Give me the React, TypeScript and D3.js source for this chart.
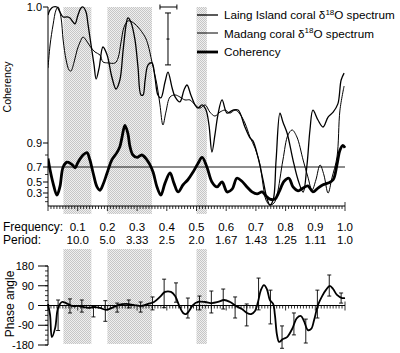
import * as d3 from 'd3';

// frequency axis (cycles per year) and matching periods
const frequencyTicks = [0.1, 0.2, 0.3, 0.4, 0.5, 0.6, 0.7, 0.8, 0.9, 1.0];
const periodLabels = ['10.0', '5.0', '3.33', '2.5', '2.0', '1.67', '1.43', '1.25', '1.11', '1.0'];
const coherencyTicks = [0.3, 0.5, 0.7, 0.9, 1.0];
const phaseTicks = [-180, -90, 0, 90, 180];
const significance = 0.7;

// shaded frequency bands
const bands: [number, number][] = [
  [0.052, 0.146],
  [0.2, 0.35],
  [0.5, 0.535],
];

// normalised spectral power, [frequency, power]
const laingSpectrum: [number, number][] = [
  [0.0, 0.96], [0.007, 0.985], [0.017, 1.0], [0.03, 1.0], [0.04, 0.975], [0.051, 0.95],
  [0.064, 0.95], [0.074, 0.945], [0.084, 0.925], [0.091, 0.915], [0.101, 0.96], [0.111, 0.995],
  [0.118, 1.0], [0.128, 0.975], [0.135, 0.91], [0.145, 0.809], [0.155, 0.709], [0.162, 0.638],
  [0.172, 0.693], [0.185, 0.799], [0.199, 0.759], [0.215, 0.648], [0.229, 0.588], [0.242, 0.633],
  [0.253, 0.784], [0.263, 0.91], [0.269, 0.945], [0.279, 0.925], [0.293, 0.834], [0.303, 0.698],
  [0.313, 0.558], [0.32, 0.558], [0.327, 0.633], [0.337, 0.709], [0.35, 0.719], [0.36, 0.648],
  [0.37, 0.558], [0.38, 0.543], [0.394, 0.623], [0.404, 0.673], [0.418, 0.593], [0.428, 0.548],
  [0.444, 0.523], [0.458, 0.583], [0.468, 0.608], [0.481, 0.558], [0.495, 0.508], [0.505, 0.492],
  [0.519, 0.508], [0.532, 0.482], [0.542, 0.407], [0.552, 0.271], [0.562, 0.357], [0.572, 0.457],
  [0.586, 0.533], [0.603, 0.467], [0.623, 0.482], [0.64, 0.482], [0.663, 0.397], [0.68, 0.342],
  [0.69, 0.327], [0.707, 0.246], [0.724, 0.131], [0.737, 0.04], [0.747, 0.005], [0.758, 0.03],
  [0.768, 0.231], [0.781, 0.467], [0.791, 0.422], [0.805, 0.367], [0.825, 0.231], [0.842, 0.131],
  [0.859, 0.07], [0.872, 0.206], [0.882, 0.382], [0.892, 0.482], [0.909, 0.432], [0.926, 0.397],
  [0.943, 0.447], [0.96, 0.472], [0.976, 0.513], [0.987, 0.633], [0.997, 0.668],
];

const madangSpectrum: [number, number][] = [
  [0.0, 0.693], [0.007, 0.809], [0.017, 0.91], [0.027, 0.985], [0.034, 1.0], [0.044, 0.945],
  [0.051, 0.834], [0.061, 0.734], [0.071, 0.683], [0.077, 0.678], [0.088, 0.724], [0.098, 0.784],
  [0.108, 0.824], [0.118, 0.849], [0.128, 0.834], [0.141, 0.804], [0.158, 0.774], [0.175, 0.759],
  [0.185, 0.724], [0.202, 0.719], [0.226, 0.719], [0.236, 0.744], [0.246, 0.824], [0.256, 0.899],
  [0.269, 0.93], [0.283, 0.925], [0.303, 0.899], [0.327, 0.849], [0.337, 0.809], [0.35, 0.724],
  [0.367, 0.608], [0.377, 0.508], [0.387, 0.407], [0.397, 0.472], [0.411, 0.548], [0.428, 0.558],
  [0.444, 0.548], [0.461, 0.533], [0.478, 0.533], [0.495, 0.508], [0.512, 0.492], [0.529, 0.508],
  [0.545, 0.472], [0.562, 0.452], [0.579, 0.472], [0.596, 0.482], [0.613, 0.467], [0.63, 0.482],
  [0.646, 0.462], [0.663, 0.417], [0.68, 0.347], [0.697, 0.291], [0.714, 0.206], [0.724, 0.106],
  [0.734, 0.03], [0.747, 0.005], [0.761, 0.015], [0.771, 0.055], [0.791, 0.231], [0.808, 0.357],
  [0.822, 0.382], [0.838, 0.347], [0.859, 0.231], [0.875, 0.146], [0.889, 0.08], [0.902, 0.131],
  [0.916, 0.206], [0.929, 0.156], [0.943, 0.065], [0.956, 0.141], [0.973, 0.246], [0.983, 0.482],
  [0.997, 0.603],
];

// coherency, [frequency, coherency]
const coherency: [number, number][] = [
  [0.0, 0.77], [0.007, 0.66], [0.017, 0.48], [0.03, 0.25], [0.04, 0.41], [0.051, 0.7],
  [0.064, 0.74], [0.081, 0.72], [0.091, 0.69], [0.101, 0.74], [0.118, 0.8], [0.131, 0.82],
  [0.141, 0.76], [0.152, 0.62], [0.165, 0.41], [0.175, 0.35], [0.185, 0.45], [0.199, 0.62],
  [0.215, 0.76], [0.232, 0.82], [0.242, 0.87], [0.249, 0.904], [0.259, 0.913], [0.269, 0.907],
  [0.276, 0.87], [0.286, 0.8], [0.3, 0.78], [0.316, 0.8], [0.333, 0.76], [0.343, 0.72],
  [0.354, 0.63], [0.367, 0.41], [0.38, 0.25], [0.394, 0.48], [0.411, 0.62], [0.424, 0.48],
  [0.438, 0.32], [0.455, 0.45], [0.471, 0.53], [0.488, 0.63], [0.505, 0.73], [0.519, 0.78],
  [0.535, 0.7], [0.552, 0.5], [0.569, 0.41], [0.586, 0.5], [0.603, 0.32], [0.62, 0.37],
  [0.636, 0.55], [0.653, 0.51], [0.67, 0.41], [0.687, 0.32], [0.704, 0.28], [0.721, 0.32],
  [0.734, 0.23], [0.747, 0.16], [0.764, 0.16], [0.778, 0.32], [0.795, 0.51], [0.811, 0.55],
  [0.825, 0.41], [0.842, 0.34], [0.859, 0.39], [0.875, 0.43], [0.892, 0.32], [0.909, 0.39],
  [0.926, 0.45], [0.943, 0.48], [0.96, 0.53], [0.973, 0.72], [0.983, 0.84], [0.993, 0.88],
  [1.0, 0.86],
];

// phase angle in degrees, [frequency, phase]
const phase: [number, number][] = [
  [0.0, 7], [0.007, -43], [0.013, -144], [0.024, -103], [0.034, -11], [0.047, 16], [0.061, 11],
  [0.081, -2], [0.101, -2], [0.121, -7], [0.141, -11], [0.158, -7], [0.175, -11], [0.195, -20],
  [0.215, -11], [0.236, 2], [0.263, 7], [0.29, 2], [0.316, -2], [0.337, 7], [0.357, 16],
  [0.377, 39], [0.394, 62], [0.414, 62], [0.428, 43], [0.441, 2], [0.455, -34], [0.465, -39],
  [0.475, -25], [0.488, 2], [0.505, 16], [0.529, 16], [0.552, 11], [0.572, 16], [0.593, 25],
  [0.613, 16], [0.633, -2], [0.653, -16], [0.67, -34], [0.684, -39], [0.697, -25], [0.707, 16],
  [0.717, 71], [0.727, 93], [0.737, 75], [0.747, 25], [0.758, 7], [0.764, -43], [0.771, -134],
  [0.778, -166], [0.791, -153], [0.805, -144], [0.822, -107], [0.838, -57], [0.852, -48],
  [0.862, -71], [0.875, -112], [0.886, -107], [0.896, -66], [0.909, 2], [0.923, 43], [0.936, 71],
  [0.949, 89], [0.96, 75], [0.973, 48], [0.99, 34], [1.0, 34],
];

// phase error bars
const phaseBarFreq = [
  0.034, 0.074, 0.114, 0.153, 0.193, 0.233, 0.272, 0.312, 0.352, 0.391, 0.431, 0.471, 0.51,
  0.55, 0.59, 0.63, 0.669, 0.709, 0.749, 0.788, 0.828, 0.868, 0.907, 0.947, 0.987,
];
const phaseBarLow = [
  -114, -34, -30, -52, -72, -30, -11, -30, -20, -10, 15, -57, -20, -34, -16, -57, -93, -20, -84,
  -195, -134, -171, -57, 43, 11,
];
const phaseBarHigh = [
  25, 30, 25, -4, 22, 11, 25, 16, 39, 120, 103, 34, 43, 66, 75, 39, 7, 125, 70, -93, -34, -62, 70,
  139, 57,
];

// bandwidth and confidence indicators (top of spectrum panel)
const bandwidth = [0.377, 0.434];
const confidenceFreq = 0.404;
const confidence = [0.709, 0.839, 0.97];

const FONT = 'Liberation Sans, Arial, Helvetica, sans-serif';

const App = () => {
  const width = 400;
  const height = 353;

  const x = d3.scaleLinear().domain([0, 1]).range([48, 345]);
  const yPower = d3.scaleLinear().domain([0, 1]).range([206, 7]);
  const yCoh = d3
    .scaleLinear()
    .domain([0, 0.3, 0.5, 0.7, 0.9, 1.0])
    .range([206, 193, 182, 167, 143, 7]);
  const yPhase = d3.scaleLinear().domain([-180, 180]).range([345, 266]);

  const powerLine = d3
    .line<[number, number]>()
    .x((d) => x(d[0]))
    .y((d) => yPower(d[1]))
    .curve(d3.curveCatmullRom.alpha(0.5));
  const cohLine = d3
    .line<[number, number]>()
    .x((d) => x(d[0]))
    .y((d) => yCoh(d[1]))
    .curve(d3.curveCatmullRom.alpha(0.5));
  const phaseLine = d3
    .line<[number, number]>()
    .x((d) => x(d[0]))
    .y((d) => yPhase(d[1]))
    .curve(d3.curveCatmullRom.alpha(0.5));

  const minorX = d3.range(0, 101).map((i) => i / 100);
  const minorCoh = [0.1, 0.2, 0.4, 0.6, 0.8];
  const minorPhase = d3.range(-180, 181, 22.5);

  const topAxisY = yCoh(0);
  const phaseZero = yPhase(0);

  return (
    <svg
      width={width}
      height={height}
      style={{ position: 'absolute', left: 0, top: 0, background: '#fff' }}
      fontFamily={FONT}
    >
      <defs>
        <pattern id="stipple" width={2} height={2} patternUnits="userSpaceOnUse">
          <rect width={2} height={2} fill="#efefef" />
          <rect width={1} height={1} fill="#c6c6c6" />
          <rect x={1} y={1} width={1} height={1} fill="#c6c6c6" />
        </pattern>
        <clipPath id="topClip">
          <rect x={48} y={3} width={298} height={topAxisY - 3} />
        </clipPath>
      </defs>

      {/* shaded bands */}
      {bands.map(([a, b], i) => (
        <g key={i}>
          <rect x={x(a)} y={7} width={x(b) - x(a)} height={214 - 7} fill="url(#stipple)" />
          <rect x={x(a)} y={249} width={x(b) - x(a)} height={344 - 249} fill="url(#stipple)" />
        </g>
      ))}

      {/* top panel axes */}
      <line x1={48} x2={48} y1={yCoh(1)} y2={topAxisY} stroke="#000" strokeWidth={1} />
      <line x1={48} x2={345} y1={topAxisY} y2={topAxisY} stroke="#000" strokeWidth={1} />
      {coherencyTicks.map((t) => (
        <g key={t}>
          <line x1={43} x2={48} y1={yCoh(t)} y2={yCoh(t)} stroke="#000" />
          <text x={42} y={yCoh(t) + 4} fontSize={11} textAnchor="end">
            {t.toFixed(1)}
          </text>
        </g>
      ))}
      {minorCoh.map((t) => (
        <line key={t} x1={45} x2={48} y1={yCoh(t)} y2={yCoh(t)} stroke="#000" strokeWidth={0.8} />
      ))}
      {minorX.map((f) => {
        const major = Math.round(f * 100) % 10 === 0;
        return (
          <line
            key={f}
            x1={x(f)}
            x2={x(f)}
            y1={f === 1 ? topAxisY - 4 : topAxisY}
            y2={topAxisY + (major ? 5 : 3)}
            stroke="#000"
            strokeWidth={0.8}
          />
        );
      })}
      <text transform={`translate(11, 87) rotate(-90)`} fontSize={10.5} textAnchor="middle">
        Coherency
      </text>

      {/* significance level */}
      <line
        x1={48}
        x2={345}
        y1={yCoh(significance)}
        y2={yCoh(significance)}
        stroke="#000"
        strokeWidth={0.9}
      />

      {/* spectra and coherency */}
      <g clipPath="url(#topClip)" fill="none" stroke="#000" strokeLinejoin="round">
        <path d={powerLine(laingSpectrum) ?? ''} strokeWidth={1.3} />
        <path d={powerLine(madangSpectrum) ?? ''} strokeWidth={1} />
        <path d={cohLine(coherency) ?? ''} strokeWidth={2.8} />
      </g>

      {/* bandwidth / confidence indicators */}
      <g stroke="#000" strokeWidth={1}>
        <line x1={x(bandwidth[0])} x2={x(bandwidth[1])} y1={yPower(1)} y2={yPower(1)} />
        <line x1={x(bandwidth[0])} x2={x(bandwidth[0])} y1={yPower(1) - 2.5} y2={yPower(1) + 2.5} />
        <line x1={x(bandwidth[1])} x2={x(bandwidth[1])} y1={yPower(1) - 2.5} y2={yPower(1) + 2.5} />
        <line
          x1={x(confidenceFreq)}
          x2={x(confidenceFreq)}
          y1={yPower(confidence[0])}
          y2={yPower(confidence[2])}
        />
        {confidence.map((c, i) => (
          <line
            key={i}
            x1={x(confidenceFreq) - (i === 1 ? 1.5 : 3)}
            x2={x(confidenceFreq) + (i === 1 ? 1.5 : 3)}
            y1={yPower(c)}
            y2={yPower(c)}
          />
        ))}
      </g>

      {/* legend */}
      <g fontSize={11.7}>
        <line x1={197} x2={218} y1={15} y2={15} stroke="#000" strokeWidth={1.3} />
        <text x={224} y={19}>
          Laing Island coral δ<tspan fontSize={8} dy={-4.5}>18</tspan>
          <tspan dy={4.5}>O spectrum</tspan>
        </text>
        <line x1={197} x2={218} y1={33} y2={33} stroke="#000" strokeWidth={1} />
        <text x={224} y={37.5}>
          Madang coral δ<tspan fontSize={8} dy={-4.5}>18</tspan>
          <tspan dy={4.5}>O spectrum</tspan>
        </text>
        <line x1={197} x2={218} y1={52} y2={52} stroke="#000" strokeWidth={2.8} />
        <text x={224} y={56}>
          Coherency
        </text>
      </g>

      {/* frequency / period labels */}
      <text x={3} y={231} fontSize={12}>
        Frequency:
      </text>
      <text x={3} y={244} fontSize={12}>
        Period:
      </text>
      {frequencyTicks.map((f, i) => (
        <g key={f} fontSize={11.5} textAnchor="middle">
          <text x={x(f)} y={231}>
            {f.toFixed(1)}
          </text>
          <text x={x(f)} y={244}>
            {periodLabels[i]}
          </text>
        </g>
      ))}

      {/* phase panel axes */}
      <line x1={48} x2={48} y1={yPhase(180)} y2={yPhase(-180)} stroke="#000" />
      <line x1={48} x2={345} y1={phaseZero} y2={phaseZero} stroke="#000" />
      {phaseTicks.map((t) => (
        <g key={t}>
          <line x1={38} x2={48} y1={yPhase(t)} y2={yPhase(t)} stroke="#000" />
          <text x={34} y={yPhase(t) + 4} fontSize={11} textAnchor="end">
            {t}
          </text>
        </g>
      ))}
      {minorPhase.map((t) => (
        <line key={t} x1={45} x2={48} y1={yPhase(t)} y2={yPhase(t)} stroke="#000" strokeWidth={0.8} />
      ))}
      {minorX.map((f) => {
        const major = Math.round(f * 100) % 10 === 0;
        return (
          <line
            key={f}
            x1={x(f)}
            x2={x(f)}
            y1={f === 1 ? phaseZero - 4 : phaseZero}
            y2={phaseZero + (major ? 5 : 3)}
            stroke="#000"
            strokeWidth={0.8}
          />
        );
      })}
      <text transform={`translate(14, 304) rotate(-90)`} fontSize={12} textAnchor="middle">
        Phase angle
      </text>

      {/* phase error bars */}
      <g stroke="#000" strokeWidth={0.9}>
        {phaseBarFreq.map((f, i) => (
          <g key={i}>
            <line x1={x(f)} x2={x(f)} y1={yPhase(phaseBarLow[i])} y2={yPhase(phaseBarHigh[i])} />
            <line x1={x(f) - 2} x2={x(f) + 2} y1={yPhase(phaseBarLow[i])} y2={yPhase(phaseBarLow[i])} />
            <line x1={x(f) - 2} x2={x(f) + 2} y1={yPhase(phaseBarHigh[i])} y2={yPhase(phaseBarHigh[i])} />
          </g>
        ))}
      </g>
      <path
        d={phaseLine(phase) ?? ''}
        fill="none"
        stroke="#000"
        strokeWidth={1.8}
        strokeLinejoin="round"
      />
    </svg>
  );
};

export default App;
